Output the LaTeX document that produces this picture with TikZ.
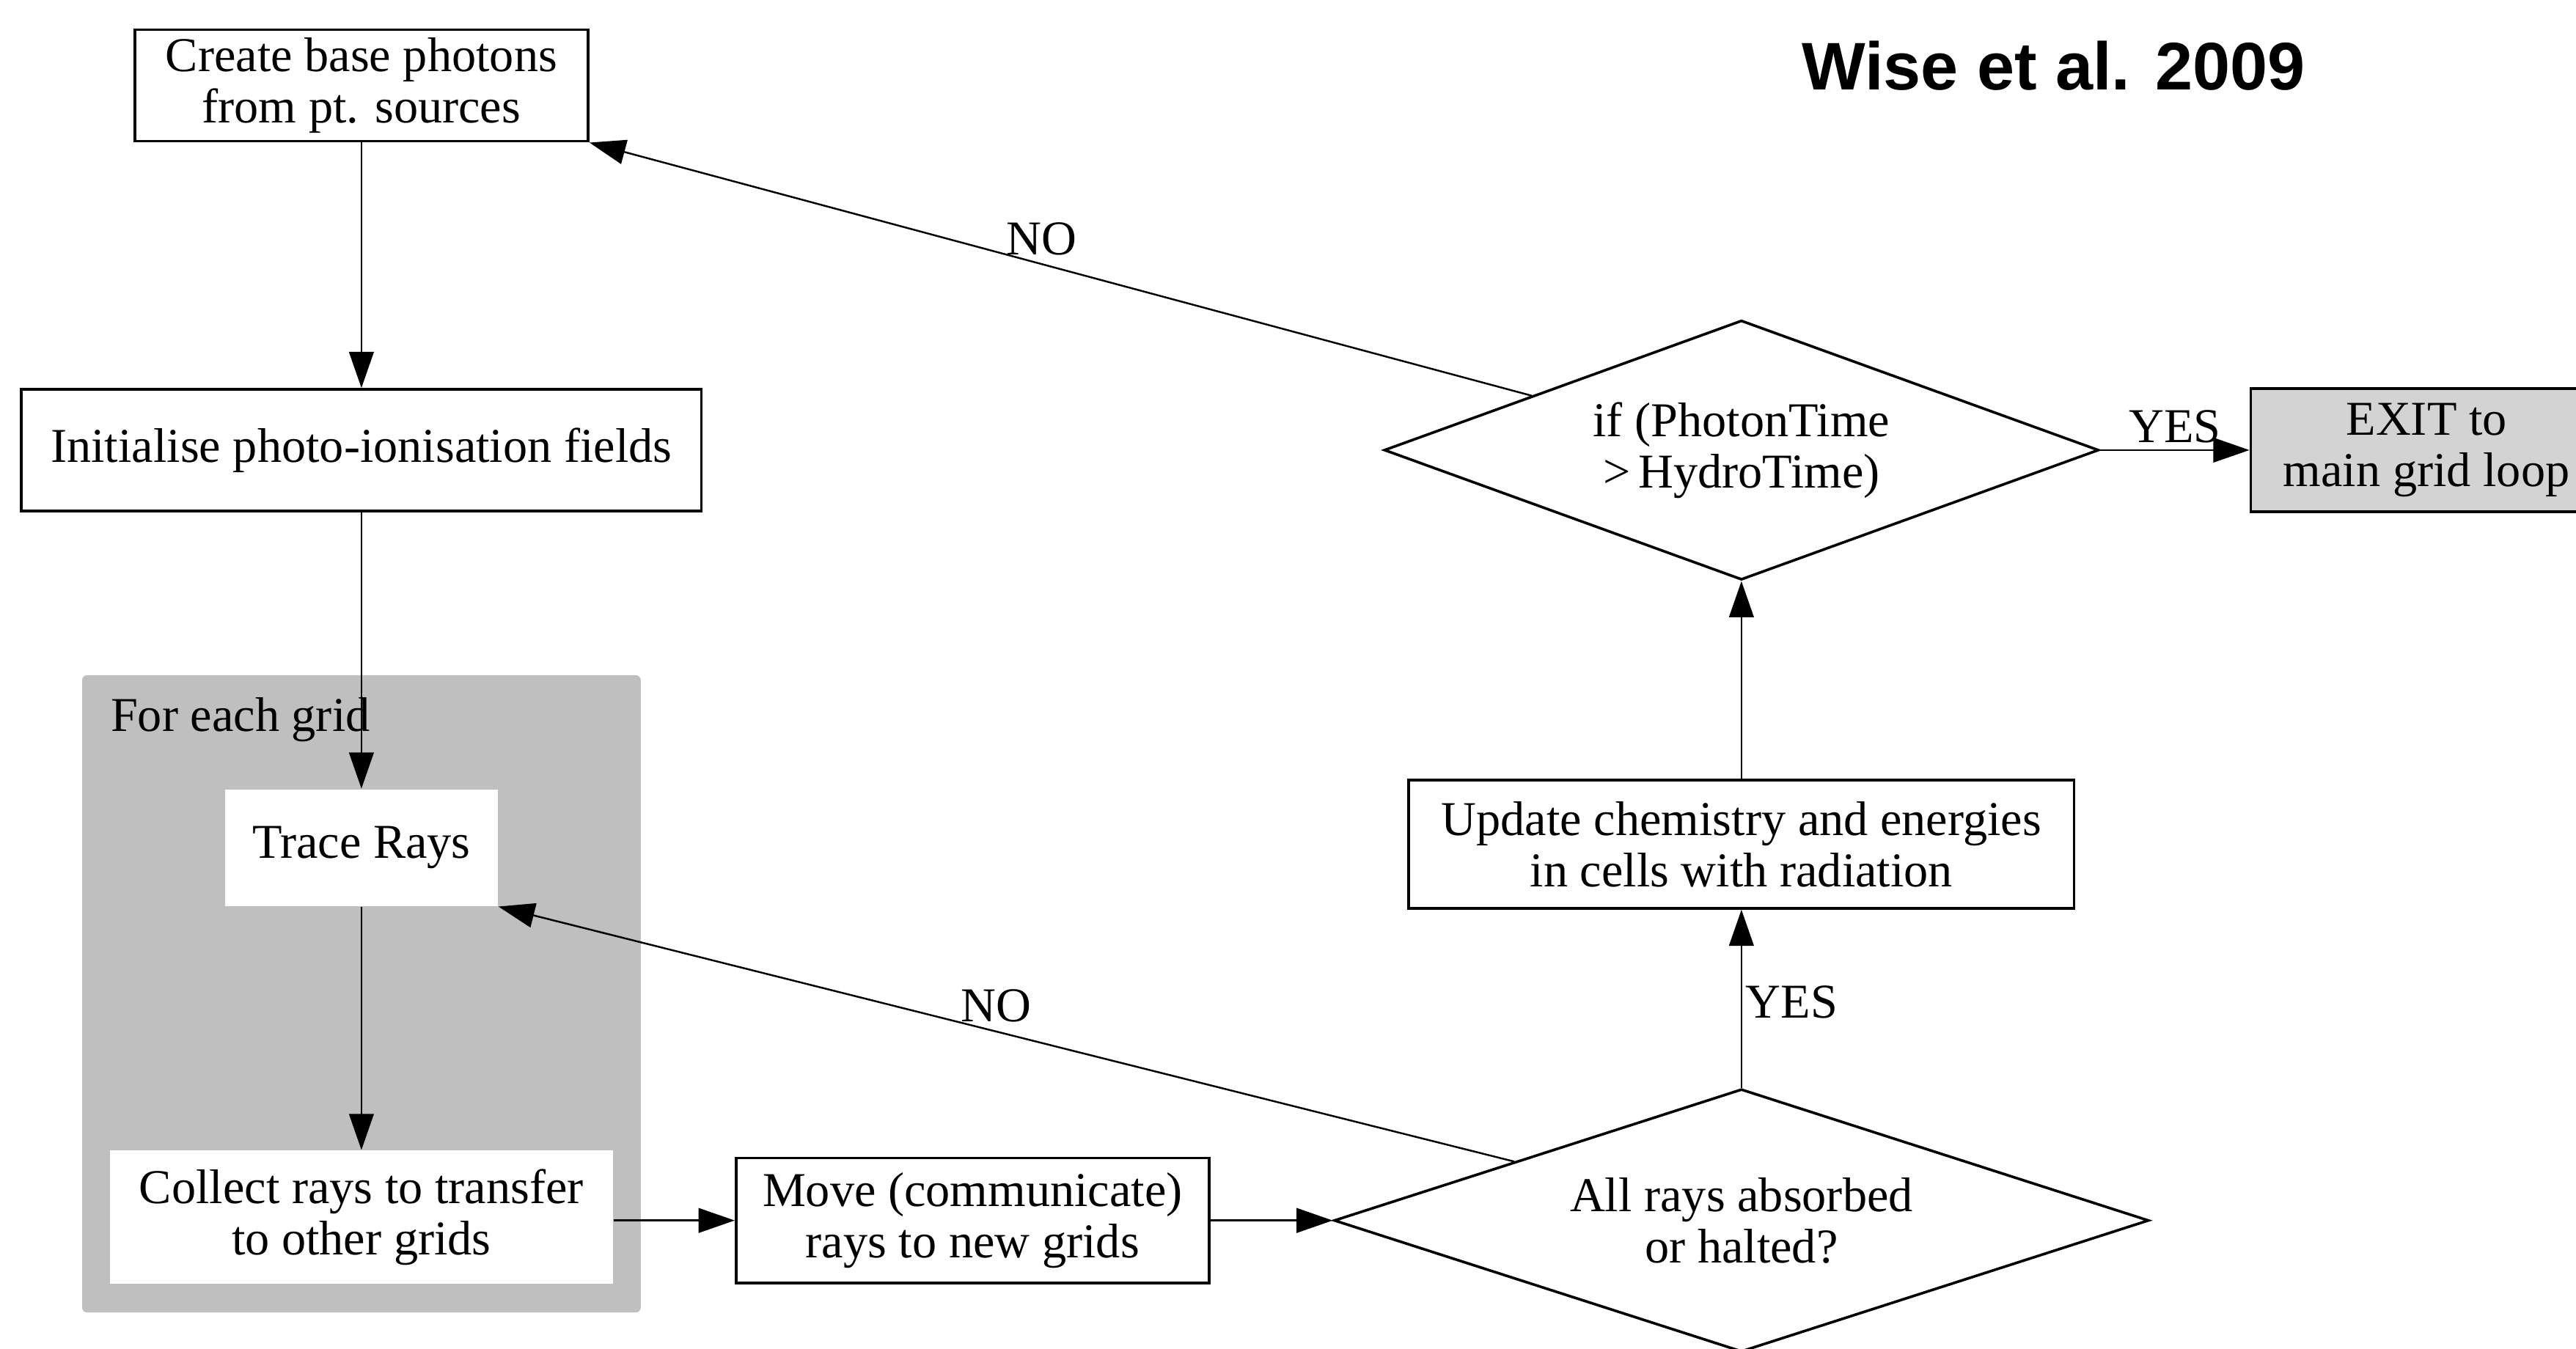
\documentclass[tikz,border=0pt]{standalone}
\usepackage{fontspec}
\setmainfont{Liberation Serif}
\newfontfamily\wisefont{Liberation Sans}
\usetikzlibrary{shapes.geometric,arrows.meta,calc}
\definecolor{clustergray}{RGB}{191,191,191}
\definecolor{exitgray}{RGB}{211,211,211}
\begin{document}
\begin{tikzpicture}[x=0.5pt,y=-0.5pt,
  every node/.style={font=\fontsize{14.8}{15.6}\selectfont},
  box/.style={draw, line width=0.8pt, rectangle, inner sep=0pt, align=center},
  plainbox/.style={fill=white, rectangle, inner sep=0pt, align=center},
  decide/.style={draw, line width=0.8pt, diamond, aspect=3, inner sep=0pt, align=center, fill=white},
  flow/.style={line width=0.55pt, -{Triangle[length=11pt,width=7.5pt]}},
  lbl/.style={inner sep=2.5pt}
]
\useasboundingbox (0,0) rectangle (1568,821);
\clip (0,0) rectangle (1568,821);
\fill[white] (0,0) rectangle (1568,821);

% cluster
\fill[clustergray, rounded corners=1.5pt] (50,411) rectangle (390,799);
\node[anchor=west, inner sep=0pt] (clab) at (67,438) {For each grid};

% nodes
\node[box, minimum width=138pt, minimum height=34pt] (create) at (220,52) {Create base photons\\from pt. sources};
\node[box, minimum width=207pt, minimum height=37pt] (init) at (220,274) {Initialise photo-ionisation fields};
\node[plainbox, minimum width=83pt, minimum height=35.5pt] (trace) at (220,516) {Trace Rays};
\node[plainbox, minimum width=153pt, minimum height=40.5pt] (collect) at (220,741) {Collect rays to transfer\\to other grids};
\node[box, minimum width=144pt, minimum height=38pt] (move) at (592,743) {Move (communicate)\\rays to new grids};
\node[decide, minimum width=248pt, minimum height=80pt] (allrays) at (1060,743) {All rays absorbed\\or halted?};
\node[box, minimum width=202.5pt, minimum height=39pt] (update) at (1060,514) {Update chemistry and energies\\in cells with radiation};
\node[decide, minimum width=217.5pt, minimum height=79pt] (ifd) at (1060,274) {if (PhotonTime\\ {>}\,HydroTime)};
\node[box, fill=exitgray, minimum width=107pt, minimum height=37.5pt] (exit) at (1477,274) {EXIT to\\main grid loop};
\node[font=\wisefont\bfseries\fontsize{20.5}{24}\selectfont, inner sep=0pt] (wise) at (1250,40) {Wise et al. 2009};

% connectors
\coordinate (arfrom) at ($(allrays.west)!0.444!(allrays.north)$);
\coordinate (iffrom) at ($(ifd.west)!0.415!(ifd.north)$);
\draw[flow] (create.south) -- (init.north);
\draw[flow] (init.south) -- (trace.north);
\draw[flow] (trace.south) -- (collect.north);
\draw[flow] (collect.east |- move.west) -- (move.west);
\draw[flow] (move.east) -- (allrays.west);
\draw[flow] (arfrom) -- node[pos=0.51, above, lbl] (no2) {NO} (trace.south east);
\draw[flow] (allrays.north) -- node[pos=0.48, right, inner sep=1pt] (yes2) {YES} (update.south);
\draw[flow] (update.north) -- (ifd.south);
\draw[flow] (ifd.east) -- node[pos=0.5, above, inner sep=2pt] (yes1) {YES} (exit.west);
\draw[flow] (iffrom) -- node[pos=0.52, above, lbl] (no1) {NO} (create.south east);
\end{tikzpicture}
\end{document}
